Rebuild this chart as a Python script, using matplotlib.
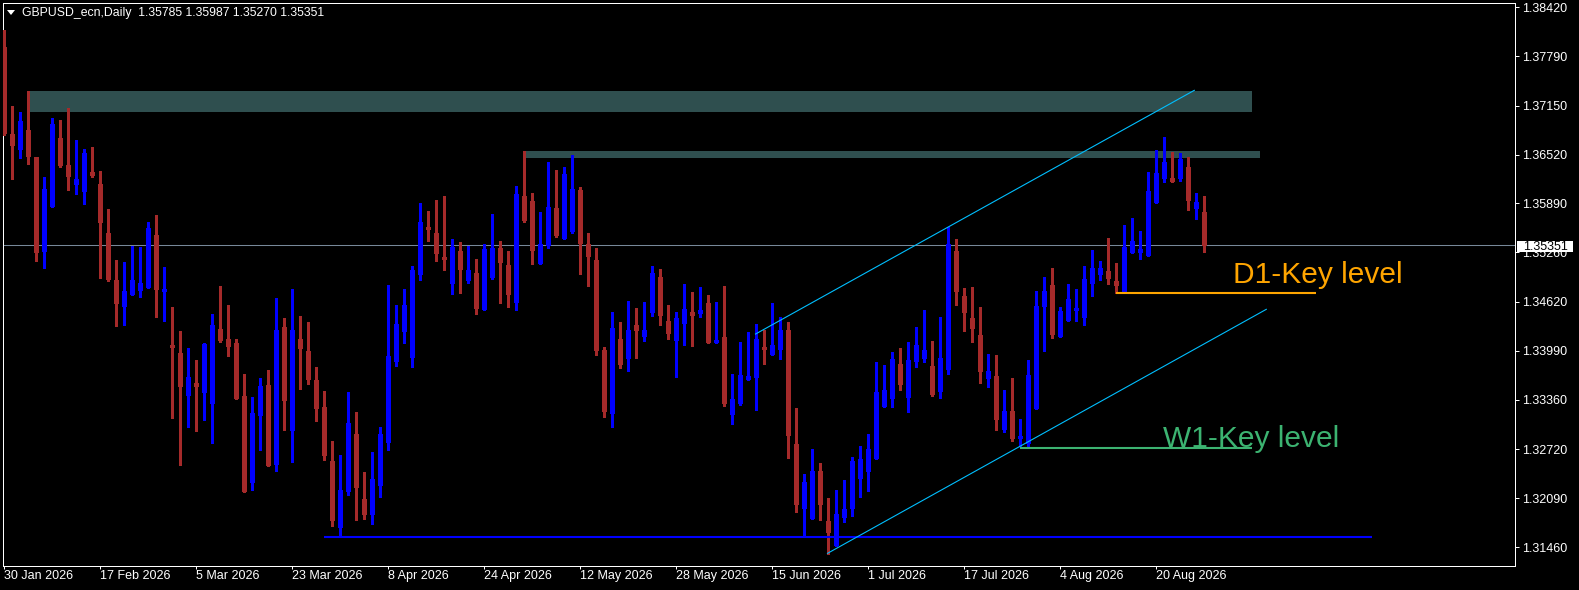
import matplotlib.pyplot as plt
from matplotlib.patches import Rectangle, Polygon

plt.rcParams['font.family'] = ['Liberation Sans', 'DejaVu Sans']

# GBPUSD_ecn daily bars, 30 Jan 2026 .. 27 Aug 2026
opens = [1.37908, 1.36786, 1.36593, 1.36838, 1.36488, 1.35277, 1.35858, 1.36735, 1.36387, 1.36141,
         1.36051, 1.36296, 1.36141, 1.35509, 1.34903, 1.34568, 1.34722, 1.34774, 1.34813, 1.35484,
         1.34761, 1.34065, 1.33961, 1.33421, 1.33575, 1.33459, 1.33317, 1.34271, 1.34142, 1.34090,
         1.33408, 1.32298, 1.33163, 1.33550, 1.32530, 1.34297, 1.32969, 1.34142, 1.33987, 1.33614,
         1.33266, 1.32569, 1.31718, 1.32182, 1.32917, 1.32079, 1.31885, 1.32260, 1.32814, 1.33858,
         1.34245, 1.33910, 1.34980, 1.35587, 1.35509, 1.35200, 1.34864, 1.35277, 1.34903, 1.34993,
         1.34529, 1.34942, 1.35316, 1.35097, 1.34619, 1.35987, 1.35922, 1.35122, 1.35355, 1.35832,
         1.35445, 1.35535, 1.36064, 1.35367, 1.35161, 1.34000, 1.33188, 1.34142, 1.33897, 1.34323,
         1.34181, 1.34490, 1.34942, 1.34374, 1.34129, 1.34348, 1.34490, 1.34477, 1.34606, 1.34103,
         1.34168, 1.33175, 1.33317, 1.33626, 1.33652, 1.34039, 1.33948, 1.34013, 1.34258, 1.32788,
         1.31963, 1.31834, 1.32440, 1.31795, 1.31485, 1.31846, 1.31963, 1.32350, 1.32440, 1.32608,
         1.33278, 1.33382, 1.33819, 1.33395, 1.33858, 1.33897, 1.33794, 1.33472, 1.33755, 1.35277,
         1.34697, 1.34413, 1.34194, 1.33639, 1.33665, 1.32982, 1.33214, 1.32866, 1.32801, 1.33253,
         1.34568, 1.34839, 1.34181, 1.34387, 1.34516, 1.34426, 1.34864, 1.34980, 1.35019, 1.34890,
         1.34761, 1.35264, 1.35264, 1.35226, 1.35909, 1.36219, 1.36219, 1.36219, 1.36361, 1.35832,
         1.35785]
highs = [1.38127, 1.37147, 1.37069, 1.37340, 1.36490, 1.36232, 1.36992, 1.36967, 1.37121, 1.36709,
         1.36593, 1.36619, 1.36309, 1.35819, 1.35161, 1.35135, 1.35342, 1.35329, 1.35651, 1.35742,
         1.35071, 1.34555, 1.34245, 1.34026, 1.33871, 1.34090, 1.34464, 1.34826, 1.34581, 1.34142,
         1.33690, 1.33395, 1.33639, 1.33742, 1.34671, 1.34413, 1.34787, 1.34439, 1.34361, 1.33781,
         1.33472, 1.32827, 1.32647, 1.33459, 1.33201, 1.32427, 1.32685, 1.33008, 1.34839, 1.34581,
         1.34787, 1.35084, 1.35896, 1.35793, 1.35935, 1.35987, 1.35432, 1.35393, 1.35342, 1.35174,
         1.35367, 1.35754, 1.35406, 1.35277, 1.36116, 1.36567, 1.36025, 1.35780, 1.36425, 1.36322,
         1.36361, 1.36516, 1.36103, 1.35509, 1.35316, 1.34039, 1.34490, 1.34361, 1.34632, 1.34542,
         1.34619, 1.35084, 1.35045, 1.34581, 1.34490, 1.34852, 1.34748, 1.34813, 1.34710, 1.34619,
         1.34826, 1.33690, 1.34103, 1.34232, 1.34335, 1.34258, 1.34606, 1.34426, 1.34361, 1.33253,
         1.32401, 1.32724, 1.32543, 1.32092, 1.32195, 1.32324, 1.32621, 1.32763, 1.32917, 1.33845,
         1.33807, 1.33974, 1.34026, 1.34103, 1.34297, 1.34516, 1.34116, 1.34426, 1.35587, 1.35432,
         1.34800, 1.34813, 1.34555, 1.33948, 1.33936, 1.33485, 1.33639, 1.33111, 1.33871, 1.34761,
         1.34942, 1.35058, 1.34555, 1.34852, 1.34787, 1.35084, 1.35290, 1.35148, 1.35445, 1.35122,
         1.35613, 1.35703, 1.35535, 1.36296, 1.36580, 1.36748, 1.36554, 1.36541, 1.36490, 1.36025,
         1.35987]
lows = [1.36774, 1.36206, 1.36477, 1.36399, 1.35148, 1.35058, 1.35845, 1.36361, 1.36064, 1.36012,
        1.35883, 1.36232, 1.34929, 1.34890, 1.34310, 1.34323, 1.34710, 1.34684, 1.34800, 1.34426,
        1.34374, 1.33124, 1.32518, 1.33008, 1.32956, 1.33098, 1.32801, 1.34103, 1.33923, 1.33369,
        1.32169, 1.32195, 1.32711, 1.32505, 1.32440, 1.32969, 1.32556, 1.33498, 1.33562, 1.33085,
        1.32582, 1.31731, 1.31589, 1.32131, 1.31808, 1.31821, 1.31756, 1.32105, 1.32711, 1.33794,
        1.34090, 1.33781, 1.34903, 1.35406, 1.35148, 1.35032, 1.34722, 1.34735, 1.34864, 1.34464,
        1.34516, 1.34916, 1.34606, 1.34555, 1.34516, 1.35651, 1.35109, 1.35109, 1.35316, 1.35458,
        1.35432, 1.35509, 1.34980, 1.34826, 1.33936, 1.33137, 1.33008, 1.33768, 1.33729, 1.33897,
        1.34116, 1.34439, 1.34323, 1.34142, 1.33652, 1.34065, 1.34052, 1.34426, 1.34090, 1.34090,
        1.33278, 1.33046, 1.33291, 1.33614, 1.33227, 1.33819, 1.33936, 1.33884, 1.32608, 1.31911,
        1.31615, 1.31821, 1.31808, 1.31369, 1.31472, 1.31782, 1.31859, 1.32105, 1.32182, 1.32595,
        1.33266, 1.33266, 1.33485, 1.33201, 1.33781, 1.33845, 1.33408, 1.33382, 1.33690, 1.34581,
        1.34245, 1.34103, 1.33575, 1.33524, 1.32969, 1.32943, 1.32827, 1.32763, 1.32763, 1.33240,
        1.33987, 1.34155, 1.34168, 1.34374, 1.34374, 1.34323, 1.34697, 1.34903, 1.34852, 1.34735,
        1.34748, 1.35251, 1.35174, 1.35213, 1.35896, 1.36167, 1.36167, 1.36180, 1.35806, 1.35690,
        1.35270]
closes = [1.36799, 1.36645, 1.36954, 1.36503, 1.35264, 1.36077, 1.36915, 1.36387, 1.36245, 1.36206,
          1.36541, 1.36258, 1.35651, 1.34916, 1.34606, 1.34761, 1.34903, 1.34864, 1.35574, 1.34787,
          1.34787, 1.34039, 1.33537, 1.33652, 1.33537, 1.34077, 1.34323, 1.34129, 1.34052, 1.33382,
          1.32182, 1.33188, 1.33537, 1.32518, 1.34258, 1.33356, 1.34258, 1.34026, 1.33626, 1.33253,
          1.32647, 1.31808, 1.32195, 1.33059, 1.32234, 1.31885, 1.32337, 1.32917, 1.33923, 1.34335,
          1.34581, 1.35032, 1.35651, 1.35561, 1.35251, 1.35174, 1.35329, 1.35045, 1.35032, 1.34542,
          1.35303, 1.35316, 1.35135, 1.34722, 1.36012, 1.35677, 1.35290, 1.35367, 1.35845, 1.35484,
          1.36270, 1.36077, 1.35380, 1.35213, 1.34000, 1.33214, 1.34284, 1.33819, 1.34258, 1.34258,
          1.34258, 1.34993, 1.34452, 1.34219, 1.34413, 1.34529, 1.34452, 1.34516, 1.34103, 1.34116,
          1.33317, 1.33369, 1.33678, 1.33665, 1.34142, 1.34013, 1.34065, 1.34258, 1.32905, 1.32014,
          1.32298, 1.32440, 1.32014, 1.31653, 1.31885, 1.31950, 1.32569, 1.32595, 1.32724, 1.33459,
          1.33485, 1.33884, 1.33562, 1.33871, 1.34065, 1.34000, 1.33433, 1.33897, 1.35367, 1.34761,
          1.34490, 1.34284, 1.33729, 1.33729, 1.33111, 1.33214, 1.32866, 1.32879, 1.33678, 1.34568,
          1.34761, 1.34207, 1.34503, 1.34658, 1.34542, 1.34916, 1.35058, 1.35058, 1.34929, 1.34839,
          1.35329, 1.35406, 1.35303, 1.36051, 1.36283, 1.36425, 1.36180, 1.36464, 1.35935, 1.35909,
          1.35351]

date_labels = ['30 Jan 2026', '17 Feb 2026', '5 Mar 2026', '23 Mar 2026', '8 Apr 2026',
               '24 Apr 2026', '12 May 2026', '28 May 2026', '15 Jun 2026', '1 Jul 2026',
               '17 Jul 2026', '4 Aug 2026', '20 Aug 2026']
price_labels = ['1.38420', '1.37790', '1.37150', '1.36520', '1.35890', '1.35260',
                '1.34620', '1.33990', '1.33360', '1.32720', '1.32090', '1.31460']

# drawn objects (bar index, price)
zone_top = (3, 156, 1.37073, 1.37340)
zone_mid = (65, 157, 1.36477, 1.36567)
support_line = (40, 171, 1.31593)
d1_line = (139, 164, 1.34739)
w1_line = (127, 156, 1.32741)
chan_upper = ([94, 148.85], [1.34206, 1.37349])
chan_lower = ([103, 157.85], [1.31378, 1.34525])
last_price = 1.35351
title = 'GBPUSD_ecn,Daily  1.35785 1.35987 1.35270 1.35351'

W, H = 1579, 590
fig = plt.figure(figsize=(W / 100, H / 100), dpi=100, facecolor='black')
ax = fig.add_axes([2.7 / W, 1 - 566 / H, (1515.3 - 2.7) / W, (566 - 2.7) / H])
ax.set_facecolor('black')

n = len(opens)
xs = list(range(n))
cols = ['#0000FF' if c >= o else '#A52A2A' for o, c in zip(opens, closes)]
body_lo = [min(o, c) for o, c in zip(opens, closes)]
body_hi = [max(max(o, c), min(o, c) + 0.0002) for o, c in zip(opens, closes)]

# zones behind candles
for x0, x1, p0, p1 in (zone_top, zone_mid):
    ax.add_patch(Rectangle((x0, p0), x1 - x0, p1 - p0, facecolor='#2F4F4F',
                           edgecolor='none', zorder=1))

ax.axhline(last_price, color='#778899', lw=0.75, zorder=2)

# wicks and bodies (bodies 5 px wide)
ax.vlines(xs, lows, highs, colors=cols, linewidth=0.75, antialiased=False, zorder=3)
ax.vlines(xs, body_lo, body_hi, colors=cols, linewidth=3.6, antialiased=False,
          capstyle='butt', zorder=4)

ax.hlines(support_line[2], support_line[0], support_line[1], color='#0000FF', lw=1.5, zorder=5)
ax.hlines(d1_line[2], d1_line[0], d1_line[1], color='#FFA500', lw=1.5, zorder=5)
ax.hlines(w1_line[2], w1_line[0], w1_line[1], color='#3CB371', lw=1.5, zorder=5)
ax.plot(chan_upper[0], chan_upper[1], color='#00BFFF', lw=0.8, zorder=5)
ax.plot(chan_lower[0], chan_lower[1], color='#00BFFF', lw=0.8, zorder=5)

ax.text(153.65, 1.34860, 'D1-Key level', color='#FFA500', fontsize=21.5,
        ha='left', va='baseline', zorder=6)
ax.text(144.98, 1.32746, 'W1-Key level', color='#3CB371', fontsize=21.5,
        ha='left', va='baseline', zorder=6)

ax.set_xlim(-0.1, 188.975)
ax.set_ylim(1.31215, 1.38479)

ax.yaxis.tick_right()
ax.set_yticks([float(p) for p in price_labels])
ax.set_yticklabels(price_labels)
ax.set_xticks(list(range(0, 12 * len(date_labels), 12)))
ax.set_xticklabels(date_labels, ha='left')
ax.tick_params(axis='y', colors='white', length=2.9, width=0.72, pad=2.2, labelsize=9)
ax.tick_params(axis='x', colors='white', length=2.2, width=0.72, pad=1.0, labelsize=9)
for s in ax.spines.values():
    s.set_color('white')
    s.set_linewidth(0.72)

# title line and bid price box
fig.add_artist(Polygon([[7 / W, 1 - 10 / H], [15 / W, 1 - 10 / H], [11 / W, 1 - 15 / H]],
                       closed=True, facecolor='white', edgecolor='none',
                       transform=fig.transFigure))
fig.text(21.7 / W, 1 - 12.7 / H, title, color='white', fontsize=8.8, ha='left', va='center')
fig.add_artist(Rectangle((1517.3 / W, 1 - 252.3 / H), 55.4 / W, 11.6 / H,
                         facecolor='white', edgecolor='none', transform=fig.transFigure))
fig.text(1522.7 / W, 1 - 246.7 / H, '1.35351', color='black', fontsize=9,
         ha='left', va='center')

fig.savefig('out.png', dpi=100, facecolor='black')
